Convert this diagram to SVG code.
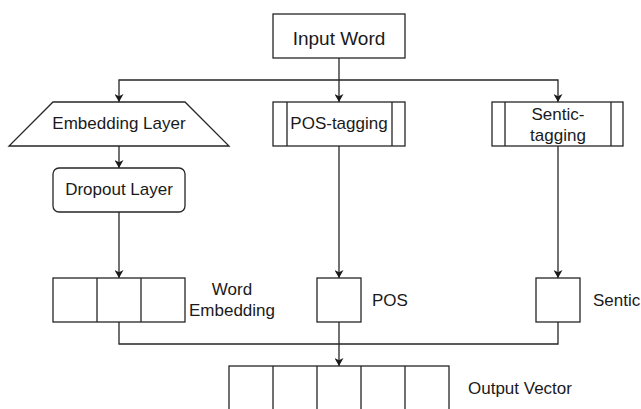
<svg xmlns="http://www.w3.org/2000/svg" width="641" height="409" viewBox="0 0 641 409">
  <defs>
    <marker id="arrow" viewBox="0 0 8 9" refX="8" refY="4.5" markerWidth="8" markerHeight="9" markerUnits="userSpaceOnUse" orient="auto">
      <path d="M0,0 L8,4.5 L0,9 L2.2,4.5 Z" fill="#1a1a1a"/>
    </marker>
    <style>
      .shape { fill: #ffffff; stroke: #262626; stroke-width: 1.3; }
      .div { fill: none; stroke: #262626; stroke-width: 1.3; }
      .edge { fill: none; stroke: #262626; stroke-width: 1.3; }
      .arr { marker-end: url(#arrow); }
      text { font-family: "Liberation Sans", Arial, Helvetica, sans-serif; font-size: 17px; fill: #1a1a1a; }
      .mid { text-anchor: middle; }
    </style>
  </defs>

  <rect width="641" height="409" fill="#ffffff"/>

  <!-- connectors -->
  <g id="connectors">
    <path class="edge arr" d="M339,58 V102"/>
    <path class="edge arr" d="M339,80 H119 V102"/>
    <path class="edge arr" d="M339,80 H558 V102"/>
    <path class="edge arr" d="M119,146 V168"/>
    <path class="edge arr" d="M119,212 V278"/>
    <path class="edge arr" d="M339,146 V278"/>
    <path class="edge arr" d="M558,146 V278"/>
    <path class="edge" d="M119,322 V344 H558 V322"/>
    <path class="edge arr" d="M339,322 V366"/>
  </g>

  <!-- input -->
  <g id="input-word">
    <rect class="shape" x="273" y="14" width="132" height="44"/>
    <text class="mid" x="339" y="45" style="font-size:19px">Input Word</text>
  </g>

  <!-- left branch -->
  <g id="embedding-layer">
    <path class="shape" d="M53,102 H185 L229,146 H9 Z"/>
    <text class="mid" x="119" y="128.5">Embedding Layer</text>
  </g>
  <g id="dropout-layer">
    <rect class="shape" x="53" y="168" width="132" height="44" rx="6" ry="6"/>
    <text class="mid" x="119" y="195">Dropout Layer</text>
  </g>
  <g id="word-embedding">
    <rect class="shape" x="53" y="278" width="132" height="44"/>
    <path class="div" d="M97,278 V322 M141,278 V322"/>
    <text class="mid" x="232" y="295">Word</text>
    <text class="mid" x="232" y="316">Embedding</text>
  </g>

  <!-- middle branch -->
  <g id="pos-tagging">
    <rect class="shape" x="273" y="102" width="132" height="44"/>
    <path class="div" d="M287,102 V146 M392,102 V146"/>
    <text class="mid" x="339" y="128.5">POS-tagging</text>
  </g>
  <g id="pos">
    <rect class="shape" x="317" y="278" width="44" height="44"/>
    <text x="372" y="305.5">POS</text>
  </g>

  <!-- right branch -->
  <g id="sentic-tagging">
    <rect class="shape" x="492" y="102" width="131" height="44"/>
    <path class="div" d="M505,102 V146 M611,102 V146"/>
    <text class="mid" x="558" y="119.5">Sentic-</text>
    <text class="mid" x="558" y="140.5">tagging</text>
  </g>
  <g id="sentic">
    <rect class="shape" x="536" y="278" width="44" height="44"/>
    <text x="593" y="305.5">Sentic</text>
  </g>

  <!-- output -->
  <g id="output-vector">
    <rect class="shape" x="229" y="366" width="220" height="50"/>
    <path class="div" d="M273,366 V416 M317,366 V416 M361,366 V416 M405,366 V416"/>
    <text x="468" y="393.5">Output Vector</text>
  </g>
</svg>
